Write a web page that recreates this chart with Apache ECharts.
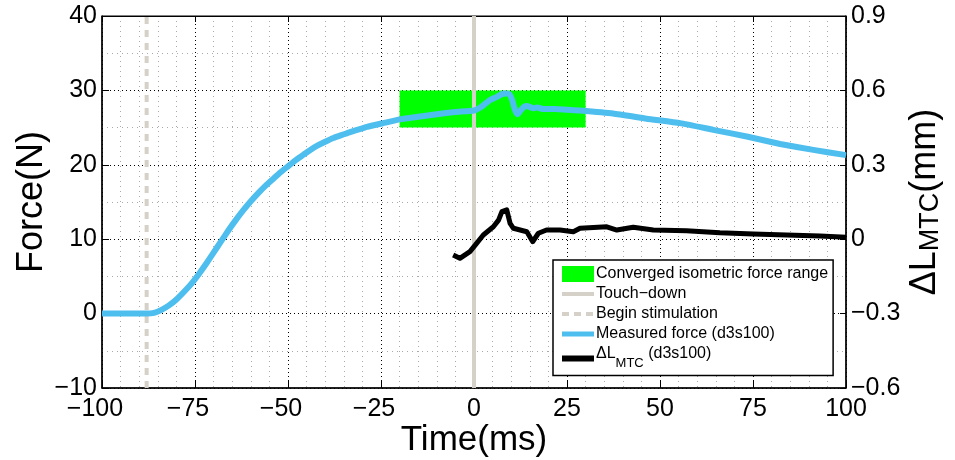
<!DOCTYPE html>
<html>
<head>
<meta charset="utf-8">
<script src="https://cdn.jsdelivr.net/npm/echarts@6/dist/echarts.min.js"></script>
<style>
  html, body { margin: 0; padding: 0; background: #fff; }
  #chart { width: 955px; height: 460px; }
</style>
</head>
<body>
<div id="chart"></div>
<script>
// measured force (N) over time (ms)
var forceTime = [-100, -95, -90, -88, -86, -84, -82, -80, -78, -76, -74, -72, -70, -68, -66, -64, -62, -60,
  -58, -56, -54, -52, -50, -48, -46, -44, -42, -40, -37.8, -35, -33.3, -30, -28.8, -24.4, -19.9, -16, -10, -5,
  0, 2, 4.3, 6, 7.5, 8.5, 9.5, 10.2, 11, 11.7, 12.5, 13.5, 14.2, 16, 17, 18.6, 22, 25, 28.5,
  37.4, 46.4, 55.4, 64.3, 73.3, 82.3, 91.2, 100];
var forceVal = [0, 0, 0, 0, 0.1, 0.5, 1.1, 1.9, 2.9, 4.0, 5.3, 6.7, 8.2, 9.7, 11.2, 12.6, 13.9, 15.1,
  16.2, 17.2, 18.1, 19.0, 19.8, 20.6, 21.3, 22.0, 22.6, 23.1, 23.6, 24.1, 24.4, 24.9, 25.1, 25.6, 26.1, 26.4, 26.8, 27.1,
  27.3, 27.8, 28.7, 29.1, 29.5, 29.6, 29.5, 28.8, 27.4, 26.8, 27.3, 27.8, 27.9, 27.6, 27.7, 27.5, 27.5, 27.4, 27.3,
  26.9, 26.2, 25.6, 24.7, 23.8, 22.8, 22.0, 21.3];

// delta L MTC (mm)
var mtcTime = [-5.6, -3.8, -1.1, 0.7, 2.5, 5.2, 6.6, 7.5, 8.8, 9.7, 10.6, 14.2, 15.8, 17.3, 19.5, 23.1,
  26.7, 28.5, 35.7, 38.4, 42.8, 48.2, 57.1, 66.1, 75.1, 84, 93, 100];
var mtcVal = [-0.064, -0.077, -0.05, -0.017, 0.017, 0.05, 0.077, 0.111, 0.118, 0.064, 0.044, 0.03, -0.01, 0.024, 0.037, 0.037,
  0.03, 0.044, 0.05, 0.037, 0.048, 0.037, 0.034, 0.026, 0.021, 0.017, 0.013, 0.008];

var touchDown = 0;
var stimStart = -88;
var rangeTime = [-20, 30];
var rangeForce = [25, 30];

var FONT = 'Liberation Sans';
var MINUS = '\u2212';
var GREY = '#d5d0c8';
var BLUE = '#4dbeee';

function pairs(xs, ys) {
  var out = [];
  for (var i = 0; i < xs.length; i++) out.push([xs[i], ys[i]]);
  return out;
}

var chart = echarts.init(document.getElementById('chart'));

var option = {
  animation: false,
  textStyle: { fontFamily: FONT },
  grid: {
    left: 102, right: 109, top: 16, bottom: 72,
    outerBoundsMode: 'none',
    show: true, borderColor: '#000', borderWidth: 1
  },
  legend: {
    orient: 'vertical',
    left: 553, top: 260,
    padding: [6, 5, 6, 6],
    itemGap: 4,
    itemWidth: 32,
    itemHeight: 16,
    backgroundColor: '#fff',
    borderColor: '#000',
    borderWidth: 1.5,
    textStyle: {
      fontFamily: FONT, fontSize: 16, color: '#000', padding: [0, 0, 0, -3],
      rich: {
        n: { fontFamily: FONT, fontSize: 16, color: '#000', padding: [0, 0, 9, 0] },
        s: { fontFamily: FONT, fontSize: 13, color: '#000', padding: [9, 0, 0, 0] },
        t: { fontFamily: FONT, fontSize: 16, color: '#000', padding: [0, 0, 9, 0] }
      }
    },
    formatter: function (name) {
      if (name.indexOf('ΔL') === 0) return '{n|ΔL}{s|MTC}{t| (d3s100)}';
      return name;
    },
    data: [
      { name: 'Converged isometric force range', icon: 'rect', itemStyle: { color: '#00ff00' } },
      { name: 'Touch' + MINUS + 'down', itemStyle: { opacity: 0 }, lineStyle: { width: 4, color: GREY } },
      { name: 'Begin stimulation', itemStyle: { opacity: 0 }, lineStyle: { width: 4, color: GREY, type: [7, 5] } },
      { name: 'Measured force (d3s100)', itemStyle: { opacity: 0 }, lineStyle: { width: 5, color: BLUE } },
      { name: 'ΔL_MTC (d3s100)', itemStyle: { opacity: 0 }, lineStyle: { width: 6, color: '#000' } }
    ]
  },
  xAxis: [{
    type: 'value', min: -100, max: 100, interval: 25,
    name: 'Time(ms)', nameLocation: 'middle', nameGap: 35, nameMoveOverlap: false,
    nameTextStyle: { fontFamily: FONT, fontSize: 35, color: '#000' },
    axisLine: { onZero: false, lineStyle: { color: '#000', width: 1.5 } },
    axisTick: { inside: true, length: 7, lineStyle: { color: '#000' } },
    axisLabel: {
      margin: 9, fontFamily: FONT, fontSize: 25, color: '#000',
      formatter: function (v) {
        return v < 0 ? '{m|' + MINUS + '}' + Math.abs(v) + '{p|}' : String(v);
      },
      rich: {
        m: { fontFamily: FONT, fontSize: 25, color: '#000' },
        p: { width: 14 }
      }
    },
    splitLine: { show: true, lineStyle: { color: '#000', width: 1, type: [1, 3] } },
    minorTick: { show: false, splitNumber: 5 },
    minorSplitLine: { show: true, lineStyle: { color: '#aaa', width: 1, type: [1, 4] } }
  }, {
    type: 'value', min: -100, max: 100, interval: 25, position: 'top',
    axisLine: { show: true, onZero: false, lineStyle: { color: '#000', width: 1 } },
    axisTick: { inside: true, length: 6, lineStyle: { color: '#000' } },
    axisLabel: { show: false },
    splitLine: { show: false }
  }],
  yAxis: [{
    type: 'value', min: -10, max: 40, interval: 10,
    name: 'Force(N)', nameLocation: 'middle', nameGap: 52, nameMoveOverlap: false,
    nameTextStyle: { fontFamily: FONT, fontSize: 36, color: '#000' },
    axisLine: { show: true, onZero: false, lineStyle: { color: '#000', width: 1.5 } },
    axisTick: { show: true, inside: true, length: 7, lineStyle: { color: '#000' } },
    axisLabel: {
      margin: 5, fontFamily: FONT, fontSize: 25, color: '#000',
      formatter: function (v) { return v < 0 ? MINUS + Math.abs(v) : String(v); }
    },
    splitLine: { show: true, lineStyle: { color: '#000', width: 1, type: [1, 3] } },
    minorTick: { show: false, splitNumber: 2 },
    minorSplitLine: { show: true, lineStyle: { color: '#aaa', width: 1, type: [1, 4] } }
  }, {
    type: 'value', min: -0.6, max: 0.9, interval: 0.3, position: 'right',
    name: '{n|ΔL}{s|MTC}{n|(mm)}', nameLocation: 'middle', nameGap: 61, nameRotate: 90,
    nameMoveOverlap: false,
    nameTextStyle: {
      fontFamily: FONT, fontSize: 36, color: '#000',
      rich: {
        n: { fontFamily: FONT, fontSize: 36, color: '#000', padding: [0, 0, 6, 0] },
        s: { fontFamily: FONT, fontSize: 27, color: '#000', padding: [6, 0, 0, 0] }
      }
    },
    axisLine: { show: true, onZero: false, lineStyle: { color: '#000', width: 1.5 } },
    axisTick: { show: true, inside: true, length: 6, lineStyle: { color: '#000' } },
    axisLabel: {
      margin: 5, fontFamily: FONT, fontSize: 25, color: '#000',
      formatter: function (v) {
        var r = Math.round(v * 10) / 10;
        if (r === 0) return '0';
        return (r < 0 ? MINUS : '') + Math.abs(r).toFixed(1);
      }
    },
    splitLine: { show: false }
  }],
  series: [
    {
      name: 'Converged isometric force range',
      type: 'custom',
      xAxisIndex: 0, yAxisIndex: 0,
      z: 1,
      itemStyle: { color: '#00ff00' },
      data: [[rangeTime[0], rangeForce[0], rangeTime[1], rangeForce[1]]],
      encode: { x: [0, 2], y: [1, 3] },
      renderItem: function (params, api) {
        var p0 = api.coord([api.value(0), api.value(3)]);
        var p1 = api.coord([api.value(2), api.value(1)]);
        return {
          type: 'rect',
          shape: { x: p0[0], y: p0[1], width: p1[0] - p0[0], height: p1[1] - p0[1] },
          style: { fill: '#00ff00' }
        };
      }
    },
    {
      name: 'Touch' + MINUS + 'down',
      type: 'line', symbol: 'none', z: 2,
      lineStyle: { color: GREY, width: 4 },
      itemStyle: { color: GREY },
      data: [[touchDown, -10], [touchDown, 40]]
    },
    {
      name: 'Begin stimulation',
      type: 'line', symbol: 'none', z: 2,
      lineStyle: { color: GREY, width: 4, type: [7, 6] },
      itemStyle: { color: GREY },
      data: [[stimStart, -10], [stimStart, 40]]
    },
    {
      name: 'Measured force (d3s100)',
      type: 'line', symbol: 'none', z: 3, smooth: 0.15,
      lineStyle: { color: BLUE, width: 6, join: 'round' },
      itemStyle: { color: BLUE },
      data: pairs(forceTime, forceVal)
    },
    {
      name: 'ΔL_MTC (d3s100)',
      type: 'line', symbol: 'none', z: 3, yAxisIndex: 1,
      lineStyle: { color: '#000', width: 5, join: 'round' },
      itemStyle: { color: '#000' },
      data: pairs(mtcTime, mtcVal)
    }
  ]
};

chart.setOption(option);
</script>
</body>
</html>
